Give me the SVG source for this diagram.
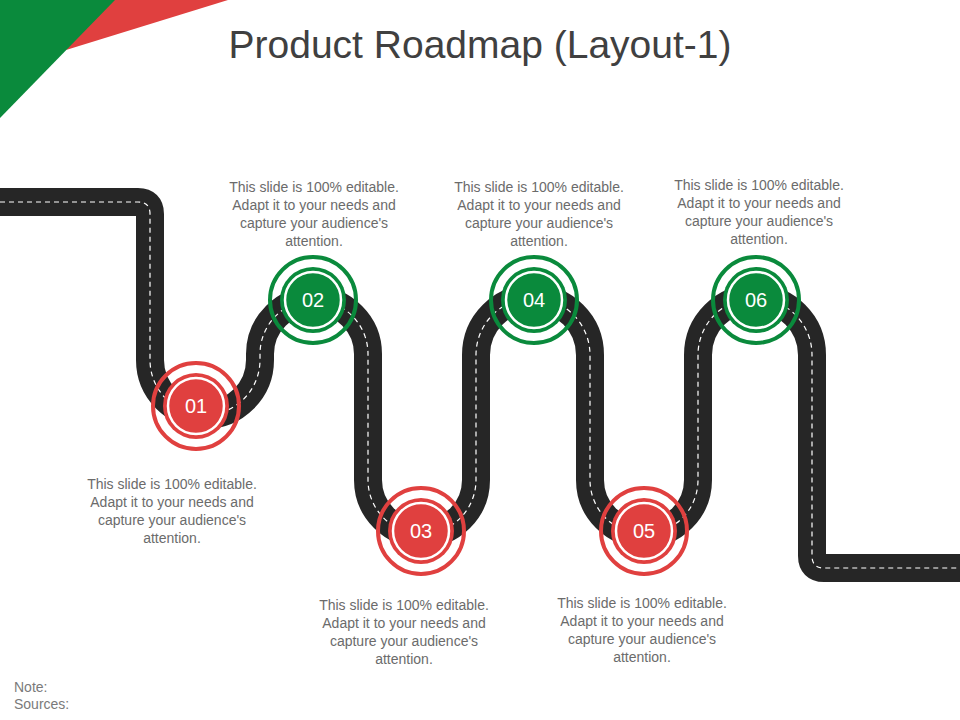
<svg xmlns="http://www.w3.org/2000/svg" width="960" height="720" viewBox="0 0 960 720">
<style>
.t{font-family:"Liberation Sans",Arial,sans-serif;font-size:14px;fill:#6b6b6b;text-anchor:middle}
.n{font-family:"Liberation Sans",Arial,sans-serif;font-size:20px;fill:#fff;text-anchor:middle}
.ring{fill:none;stroke-width:4}
.r{stroke:#E0403F}.g{stroke:#0A8A3C}
.fr{fill:#E0403F}.fg{fill:#0A8A3C}
.in{fill:none;stroke:#fff;stroke-width:2.5}
</style>
<rect width="960" height="720" fill="#fff"/>
<polygon points="95,0 228,0 66,50" fill="#E0403F"/>
<polygon points="0,0 115,0 0,118" fill="#0A8A3C"/>
<text x="480" y="58" style="font-family:'Liberation Sans',Arial,sans-serif;font-size:39px;fill:#404040;text-anchor:middle">Product Roadmap (Layout-1)</text>
<g id="connectors">
<path id="road" d="M0,202 H138 Q150,202 150,214 V360 A55,55 0 0 0 260,360 V354 A54,54 0 0 1 368,354 V480 A54,54 0 0 0 476,480 V355 A57,57 0 0 1 590,355 V480 A54,54 0 0 0 698,480 V355 A57,57 0 0 1 812,355 V556 Q812,568 824,568 H960" fill="none" stroke="#262626" stroke-width="28"/>
<path d="M0,202 H138 Q150,202 150,214 V360 A55,55 0 0 0 260,360 V354 A54,54 0 0 1 368,354 V480 A54,54 0 0 0 476,480 V355 A57,57 0 0 1 590,355 V480 A54,54 0 0 0 698,480 V355 A57,57 0 0 1 812,355 V556 Q812,568 824,568 H960" fill="none" stroke="#fff" stroke-width="1.2" stroke-dasharray="5,4"/>
</g>
<g id="node01"><circle cx="196" cy="406" r="43" class="ring r"/><circle cx="196" cy="406" r="33" class="fr"/><circle cx="196" cy="406" r="28" class="in"/><text x="196" y="413" class="n">01</text></g>
<g id="node02"><circle cx="313" cy="300" r="43" class="ring g"/><circle cx="313" cy="300" r="33" class="fg"/><circle cx="313" cy="300" r="28" class="in"/><text x="313" y="307" class="n">02</text></g>
<g id="node03"><circle cx="421" cy="531" r="43" class="ring r"/><circle cx="421" cy="531" r="33" class="fr"/><circle cx="421" cy="531" r="28" class="in"/><text x="421" y="538" class="n">03</text></g>
<g id="node04"><circle cx="534" cy="300" r="43" class="ring g"/><circle cx="534" cy="300" r="33" class="fg"/><circle cx="534" cy="300" r="28" class="in"/><text x="534" y="307" class="n">04</text></g>
<g id="node05"><circle cx="644" cy="531" r="43" class="ring r"/><circle cx="644" cy="531" r="33" class="fr"/><circle cx="644" cy="531" r="28" class="in"/><text x="644" y="538" class="n">05</text></g>
<g id="node06"><circle cx="756" cy="300" r="43" class="ring g"/><circle cx="756" cy="300" r="33" class="fg"/><circle cx="756" cy="300" r="28" class="in"/><text x="756" y="307" class="n">06</text></g>
<g id="text01" class="t"><text x="172" y="489">This slide is 100% editable.</text><text x="172" y="507">Adapt it to your needs and</text><text x="172" y="525">capture your audience's</text><text x="172" y="543">attention.</text></g>
<g id="text02" class="t"><text x="314" y="192">This slide is 100% editable.</text><text x="314" y="210">Adapt it to your needs and</text><text x="314" y="228">capture your audience's</text><text x="314" y="246">attention.</text></g>
<g id="text03" class="t"><text x="404" y="610">This slide is 100% editable.</text><text x="404" y="628">Adapt it to your needs and</text><text x="404" y="646">capture your audience's</text><text x="404" y="664">attention.</text></g>
<g id="text04" class="t"><text x="539" y="192">This slide is 100% editable.</text><text x="539" y="210">Adapt it to your needs and</text><text x="539" y="228">capture your audience's</text><text x="539" y="246">attention.</text></g>
<g id="text05" class="t"><text x="642" y="608">This slide is 100% editable.</text><text x="642" y="626">Adapt it to your needs and</text><text x="642" y="644">capture your audience's</text><text x="642" y="662">attention.</text></g>
<g id="text06" class="t"><text x="759" y="190">This slide is 100% editable.</text><text x="759" y="208">Adapt it to your needs and</text><text x="759" y="226">capture your audience's</text><text x="759" y="244">attention.</text></g>
<g style="font-family:'Liberation Sans',Arial,sans-serif;font-size:14px;fill:#7a7a7a"><text x="14" y="692">Note:</text><text x="14" y="709">Sources:</text></g>
</svg>
